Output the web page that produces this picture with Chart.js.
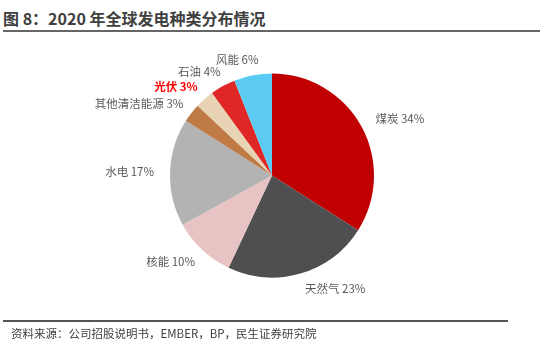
<!DOCTYPE html>
<html>
<head>
<meta charset="utf-8">
<script src="https://cdn.jsdelivr.net/npm/chart.js@4"></script>
<style>
  html, body { margin: 0; padding: 0; background: #fff; }
  body { width: 555px; height: 350px; position: relative; overflow: hidden;
         font-family: "Microsoft YaHei", "Noto Sans CJK SC", sans-serif; }
  #title { position: absolute; left: 3px; top: 6px; font-size: 16px; font-weight: bold;
           color: #404040; white-space: nowrap; }
  #topline { position: absolute; left: 3px; top: 30px; width: 537px; height: 2px; background: #666; }
  #bottomline { position: absolute; left: 3px; top: 320px; width: 505px; height: 2px; background: #555; }
  #source { position: absolute; left: 11px; top: 325px; font-size: 11.5px; color: #404040; white-space: nowrap; }
  #wrap { position: absolute; left: 0; top: 0; width: 555px; height: 350px; }
</style>
</head>
<body>
<div id="title">图 8：2020 年全球发电种类分布情况</div>
<div id="topline"></div>
<div id="wrap"><canvas id="pie"></canvas></div>
<div id="bottomline"></div>
<div id="source">资料来源：公司招股说明书，EMBER，BP，民生证券研究院</div>
<script>
const categories = ["煤炭", "天然气", "核能", "水电", "其他清洁能源", "光伏", "石油", "风能"];
const shares = [34, 23, 10, 17, 3, 3, 4, 6];
const colors = ["#C00000", "#4F4F51", "#E8C3C3", "#B3B3B3", "#BF7A45", "#E8D4B4", "#DF2826", "#5BCBF3"];

// text label outside each slice, left or right of the arc's mid-angle
const outsideLabels = {
  id: "outsideLabels",
  afterDatasetsDraw(chart, args, opts) {
    const ctx = chart.ctx;
    const meta = chart.getDatasetMeta(0);
    ctx.save();
    ctx.textBaseline = "middle";
    meta.data.forEach((arc, i) => {
      const mid = (arc.startAngle + arc.endAngle) / 2;
      const r = arc.outerRadius + opts.gap;
      const x = arc.x + Math.cos(mid) * r;
      const y = arc.y + Math.sin(mid) * r;
      const hot = categories[i] === opts.highlight;
      const text = categories[i] + " " + shares[i] + "%";
      ctx.font = (hot ? "bold " : "") + "11.5px 'Microsoft YaHei', 'Noto Sans CJK SC', sans-serif";
      ctx.fillStyle = hot ? "#FF0000" : "#595959";
      const right = Math.cos(mid) >= 0;
      ctx.textAlign = right ? "left" : "right";
      // left-side labels near the top slide back toward the slice
      const shift = right ? 0 : (1 - Math.abs(Math.cos(mid))) * ctx.measureText(text).width * 0.25;
      ctx.fillText(text, x + shift, y);
    });
    ctx.restore();
  }
};

new Chart(document.getElementById("pie"), {
  type: "pie",
  data: {
    labels: categories,
    datasets: [{ data: shares, backgroundColor: colors, borderWidth: 0 }]
  },
  options: {
    responsive: true,
    maintainAspectRatio: false,
    animation: false,
    layout: { padding: { left: 170, right: 181, top: 73, bottom: 72 } },
    plugins: {
      legend: { display: false },
      tooltip: { enabled: false },
      outsideLabels: { gap: 16, highlight: "光伏" }
    }
  },
  plugins: [outsideLabels]
});
</script>
</body>
</html>
